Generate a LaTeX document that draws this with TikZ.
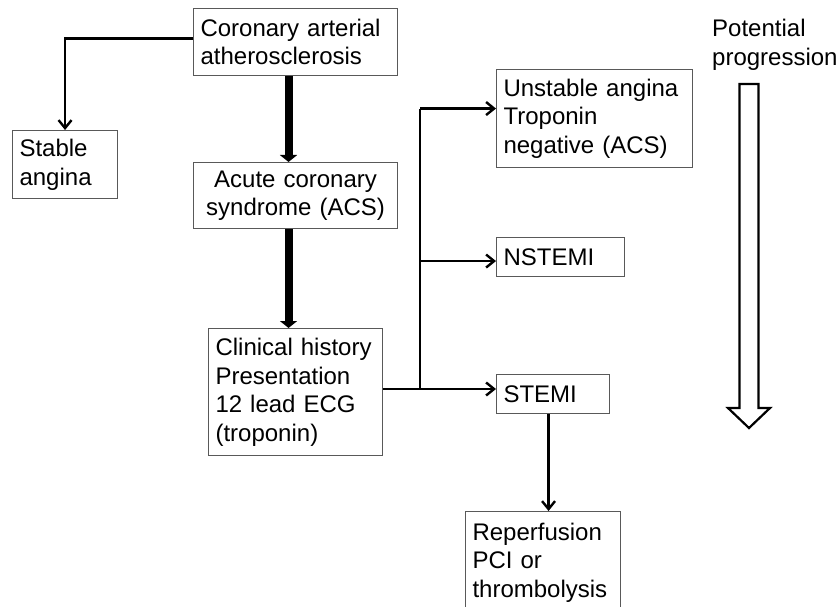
\documentclass[tikz,border=0pt]{standalone}
\usepackage{fontspec}
\setmainfont{Liberation Sans}
\usetikzlibrary{arrows.meta}
\begin{document}
\begin{tikzpicture}[x=1pt,y=-1pt,
  every node/.style={font=\fontsize{24}{28.5}\selectfont},
  box/.style={draw=black!65, line width=1.1pt, anchor=north west, inner xsep=7pt, inner ysep=0pt, align=left},
  thick arrow/.style={line width=8pt, -{Triangle[length=7pt,width=17pt]}},
  thin arrow/.style={line width=2.4pt, -{Straight Barb[length=8pt,width=13pt,line width=2.4pt]}},
  link/.style={line width=2.4pt}
]
\useasboundingbox (0,0) rectangle (839,607);
\clip (0,0) rectangle (839,607);
\fill[white] (0,0) rectangle (839,607);

\node[box, minimum width=204pt, minimum height=67pt, text width=190pt] (coronary) at (193,8) {Coronary arterial\\atherosclerosis};
\node[box, minimum width=105pt, minimum height=68pt, text width=91pt] (stable) at (12,130) {Stable\\angina};
\node[box, minimum width=204pt, minimum height=66pt, text width=190pt, align=center] (acs) at (193,162) {Acute coronary\\syndrome (ACS)};
\node[box, minimum width=174pt, minimum height=127pt, text width=160pt] (clinical) at (208,328) {Clinical history\\Presentation\\12 lead ECG\\(troponin)};
\node[box, minimum width=196pt, minimum height=98pt, text width=182pt] (unstable) at (496,69) {Unstable angina\\Troponin\\negative (ACS)};
\node[box, minimum width=128pt, minimum height=39pt, text width=114pt] (nstemi) at (496,237) {NSTEMI};
\node[box, minimum width=113pt, minimum height=39pt, text width=99pt] (stemi) at (496,374) {STEMI};
\node[box, minimum width=155pt, minimum height=102pt, text width=141pt] (reperf) at (465,511) {Reperfusion\\PCI or\\thrombolysis};

\node[anchor=north west, inner sep=0pt, align=left] (prog) at (712,19) {Potential\\progression};

% connectors
\draw[thin arrow] ([yshift=3.5pt]coronary.west) -| (stable.north);
\coordinate (c1) at ([xshift=-7pt]coronary.south);
\draw[thick arrow] (c1) -- (c1 |- acs.north);
\coordinate (c2) at ([xshift=-7pt]acs.south);
\draw[thick arrow] (c2) -- (c2 |- clinical.north);

\coordinate (j) at (420,389);
\coordinate (u1) at ([yshift=10pt]unstable.west);
\coordinate (n1) at ([yshift=-4pt]nstemi.west);
\draw[thin arrow] (j -| clinical.east) -- (j -| stemi.west);
\draw[link] (j) -- (j |- u1);
\draw[thin arrow] (j |- u1) -- (u1);
\draw[thin arrow] (j |- n1) -- (n1);

\coordinate (s1) at ([xshift=-4.5pt]stemi.south);
\draw[thin arrow] (s1) -- (s1 |- reperf.north);

% hollow progression arrow
\draw[line width=2.2pt, line join=miter, fill=white]
  (739.5,84) -- (758.5,84) -- (758.5,408) -- (770,408) -- (749,428) -- (728,408) -- (739.5,408) -- cycle;
\end{tikzpicture}
\end{document}
